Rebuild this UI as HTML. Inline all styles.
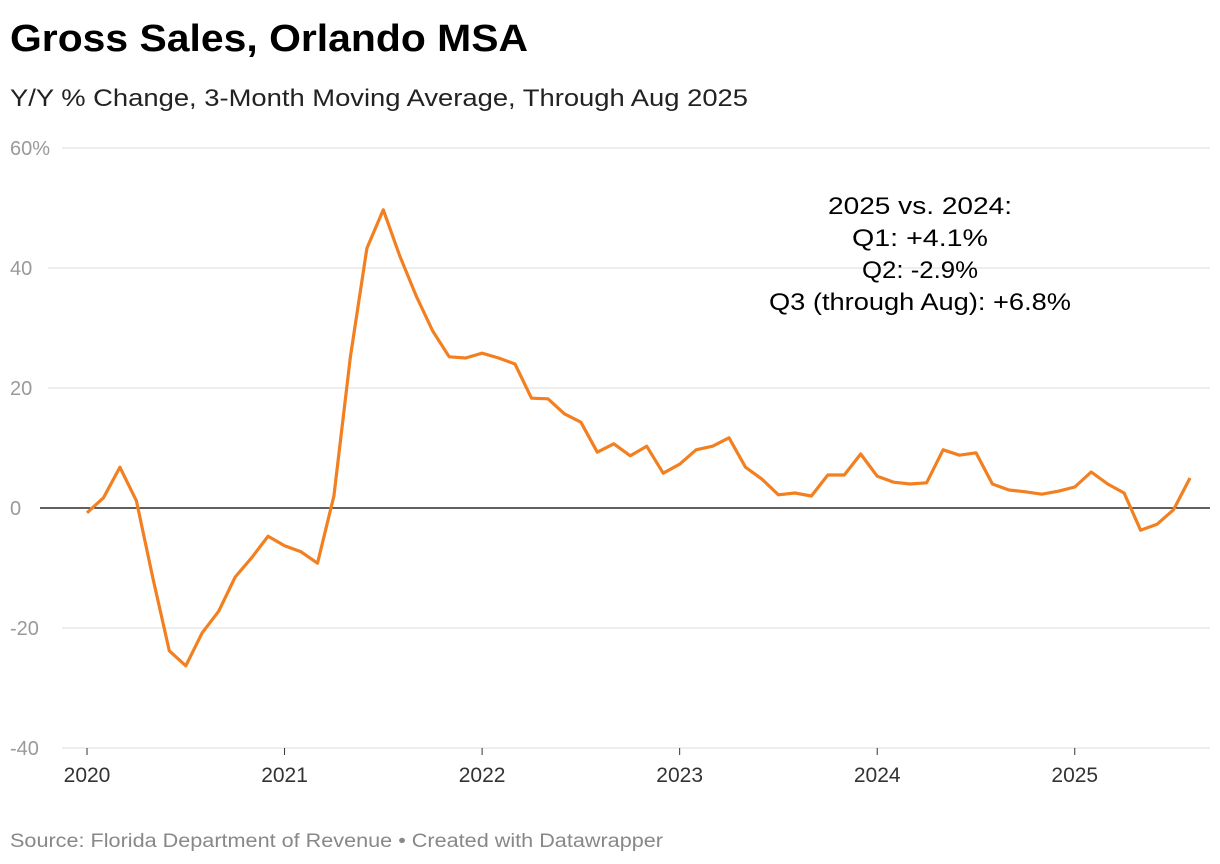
<!DOCTYPE html>
<html><head><meta charset="utf-8"><style>
body{margin:0;background:#fff;font-family:"Liberation Sans",sans-serif;}
#wrap{position:relative;width:1220px;height:864px;overflow:hidden;}
</style></head><body>
<div id="wrap">
<svg id="chart" width="1220" height="864"></svg>
</div>
<script>
const months = 68; // Jan 2020 .. Aug 2025
const values = [-0.8,1.7,6.8,1.2,-11.7,-23.8,-26.3,-20.8,-17.2,-11.5,-8.3,-4.7,
-6.3,-7.3,-9.2,2,25.2,43.3,49.7,42,35.3,29.5,25.2,25,
25.8,25,24,18.3,18.2,15.7,14.3,9.3,10.7,8.7,10.3,5.8,
7.3,9.7,10.3,11.7,6.8,4.8,2.2,2.5,2,5.5,5.5,9,
5.3,4.3,4,4.2,9.7,8.8,9.2,4,3,2.7,2.3,2.8,
3.5,6,4,2.5,-3.7,-2.7,-0.3,5];
const yTicks = [60,40,20,0,-20,-40];
const yTickLabels = ["60%","40","20","0","-20","-40"];
const xYears = [2020,2021,2022,2023,2024,2025];
const annotation = ["2025 vs. 2024:","Q1: +4.1%","Q2: -2.9%","Q3 (through Aug): +6.8%"];
const annotationWidths = [184,136,116,302];

const NS="http://www.w3.org/2000/svg";
const svg=document.getElementById('chart');
const y=v=>508-(v)*6;
const x=i=>87+i*(1190-87)/67;
function el(t,a,txt){const e=document.createElementNS(NS,t);for(const k in a)e.setAttribute(k,a[k]);if(txt!==undefined)e.textContent=txt;svg.appendChild(e);return e;}

let e;
e=el('text',{x:10,y:51,'font-size':38,'font-weight':'bold',fill:'#000',textLength:518,lengthAdjust:'spacingAndGlyphs'},'Gross Sales, Orlando MSA');


e=el('text',{x:10,y:106,'font-size':24,fill:'#222',textLength:738,lengthAdjust:'spacingAndGlyphs'},'Y/Y % Change, 3-Month Moving Average, Through Aug 2025');



yTicks.forEach((t,i)=>{
  if(t!==0){
    e=el('line',{x1:i===0?62:(t<0?62:48),x2:1210,y1:y(t),y2:y(t),stroke:'#dcdcdc','stroke-width':1});
    
    
  }
  e=el('text',{x:10,y:y(t)+7,'font-size':20,fill:'#9a9a9a'},yTickLabels[i]);
  
  
});
e=el('line',{x1:40,x2:1210,y1:y(0),y2:y(0),stroke:'#000','stroke-width':1.3});



xYears.forEach((yr,i)=>{
  e=el('line',{x1:x(i*12),x2:x(i*12),y1:748,y2:755,stroke:'#333','stroke-width':1});
  
  
  e=el('text',{x:x(i*12),y:782,'font-size':21,fill:'#333','text-anchor':'middle'},String(yr));
  
  
});

const d=values.map((v,i)=>(i?'L':'M')+x(i).toFixed(1)+','+y(v).toFixed(1)).join('');
e=el('path',{d:d,fill:'none',stroke:'#f28021','stroke-width':3.2,'stroke-linejoin':'round'});



annotation.forEach((s,i)=>{
  e=el('text',{x:920,y:214+i*32,'font-size':24,fill:'#000','text-anchor':'middle',textLength:annotationWidths[i],lengthAdjust:'spacingAndGlyphs'},s);
  
  
});

e=el('text',{x:10,y:847,'font-size':19,fill:'#888',textLength:653,lengthAdjust:'spacingAndGlyphs'},'Source: Florida Department of Revenue • Created with Datawrapper');


</script>
</body></html>
